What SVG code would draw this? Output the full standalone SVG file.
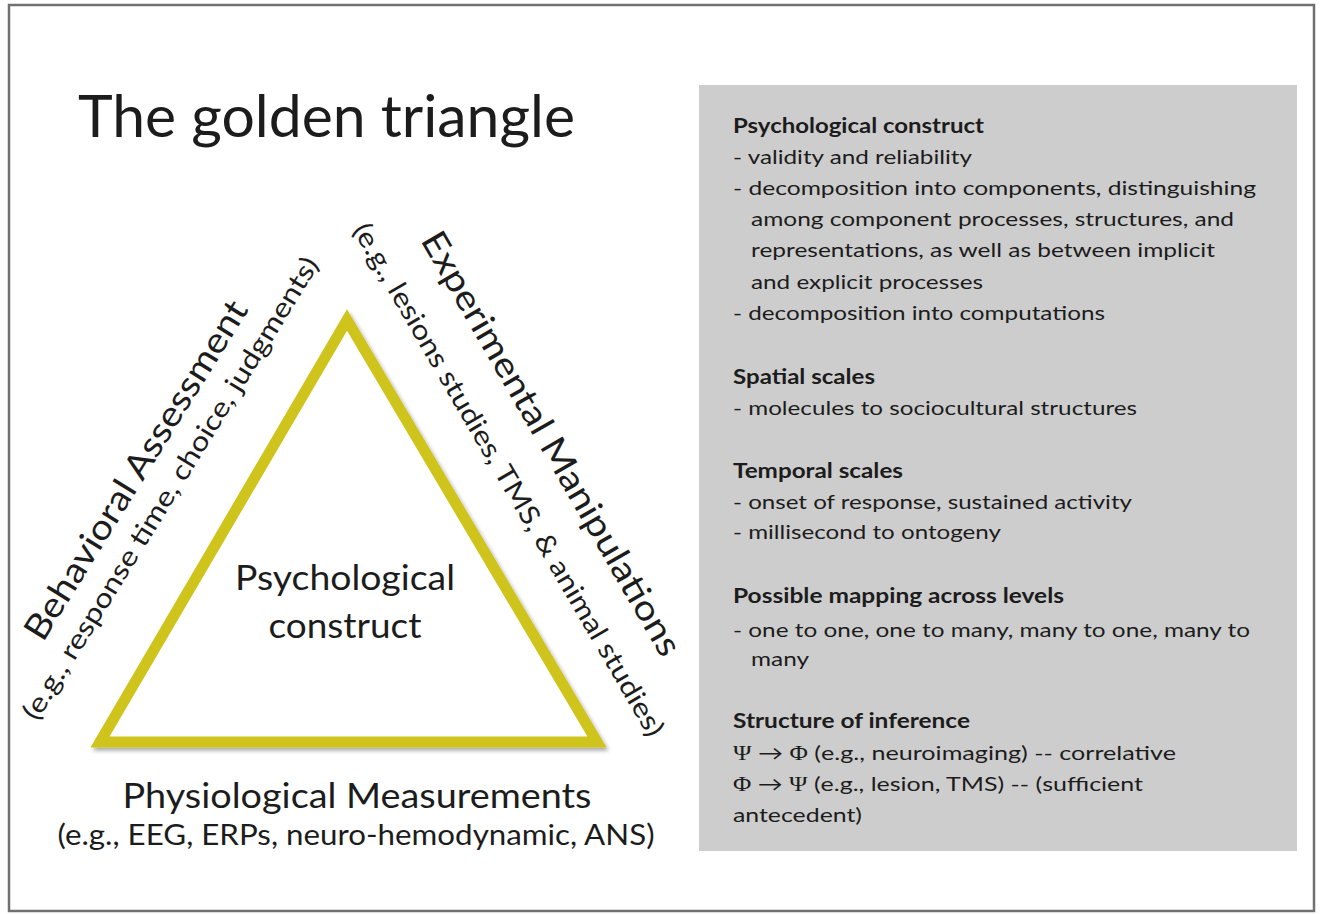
<svg xmlns="http://www.w3.org/2000/svg" width="1321" height="914" viewBox="0 0 1321 914">
<style>
.t{font-family:Lato,"Open Sans","Liberation Sans",sans-serif;fill:#1c1c1c}
.b{font-weight:bold}
.box{font-size:20px}
.sym{font-family:"Liberation Serif","DejaVu Serif",serif}
</style>
<defs>
<filter id="sh" x="-10%" y="-10%" width="120%" height="120%">
<feGaussianBlur in="SourceAlpha" stdDeviation="2"/>
<feOffset dx="2" dy="3"/>
<feComponentTransfer><feFuncA type="linear" slope="0.35"/></feComponentTransfer>
<feMerge><feMergeNode/><feMergeNode in="SourceGraphic"/></feMerge>
</filter>
</defs>
<rect x="0" y="0" width="1321" height="914" fill="#ffffff"/>
<rect id="frame" x="9" y="5" width="1305" height="906" fill="none" stroke="#707070" stroke-width="2.5"/>

<g id="title">
<text class="t" x="78" y="137" font-size="58" textLength="497" lengthAdjust="spacingAndGlyphs">The golden triangle</text>
</g>

<g id="triangle">
<path d="M347,320 L100,742 L597,742 Z" fill="#ffffff" stroke="#cfc41c" stroke-width="11" stroke-linejoin="miter" filter="url(#sh)"/>
<text class="t" x="345" y="590" font-size="35" text-anchor="middle" textLength="220" lengthAdjust="spacingAndGlyphs">Psychological</text>
<text class="t" x="345" y="638" font-size="35" text-anchor="middle" textLength="153" lengthAdjust="spacingAndGlyphs">construct</text>
</g>

<g id="behavioral">
<text class="t" transform="translate(43,643) rotate(-58.3)" font-size="35" textLength="392" lengthAdjust="spacingAndGlyphs">Behavioral Assessment</text>
<text class="t" transform="translate(37,722) rotate(-58.3)" font-size="27" textLength="538" lengthAdjust="spacingAndGlyphs">(e.g., response time, choice, judgments)</text>
</g>

<g id="experimental">
<text class="t" transform="translate(420,240) rotate(60)" font-size="35" textLength="484" lengthAdjust="spacingAndGlyphs">Experimental Manipulations</text>
<text class="t" transform="translate(352,230) rotate(59.7)" font-size="27" textLength="589" lengthAdjust="spacingAndGlyphs">(e.g., lesions studies, TMS, &amp; animal studies)</text>
</g>

<g id="physiological">
<text class="t" x="357" y="808" font-size="34" text-anchor="middle" textLength="469" lengthAdjust="spacingAndGlyphs">Physiological Measurements</text>
<text class="t" x="356" y="845" font-size="29" text-anchor="middle" textLength="597" lengthAdjust="spacingAndGlyphs">(e.g., EEG, ERPs, neuro-hemodynamic, ANS)</text>
</g>

<g id="infobox">
<rect x="699" y="85" width="598" height="766" fill="#cdcdcd"/>
<g class="t box">
<text class="b" x="733" y="133" textLength="251" lengthAdjust="spacingAndGlyphs">Psychological construct</text>
<text x="733" y="164" textLength="239" lengthAdjust="spacingAndGlyphs">- validity and reliability</text>
<text x="733" y="195" textLength="523" lengthAdjust="spacingAndGlyphs">-  decomposition into components, distinguishing</text>
<text x="751" y="226" textLength="483" lengthAdjust="spacingAndGlyphs">among component processes, structures, and</text>
<text x="751" y="257" textLength="464" lengthAdjust="spacingAndGlyphs">representations, as well as between implicit</text>
<text x="751" y="289" textLength="232" lengthAdjust="spacingAndGlyphs">and explicit processes</text>
<text x="733" y="320" textLength="372" lengthAdjust="spacingAndGlyphs">- decomposition into computations</text>
<text class="b" x="733" y="384" textLength="142" lengthAdjust="spacingAndGlyphs">Spatial scales</text>
<text x="733" y="415" textLength="404" lengthAdjust="spacingAndGlyphs">- molecules to sociocultural structures</text>
<text class="b" x="733" y="478" textLength="170" lengthAdjust="spacingAndGlyphs">Temporal scales</text>
<text x="733" y="509" textLength="399" lengthAdjust="spacingAndGlyphs">- onset of response, sustained activity</text>
<text x="733" y="539" textLength="268" lengthAdjust="spacingAndGlyphs">- millisecond to ontogeny</text>
<text class="b" x="733" y="603" textLength="331" lengthAdjust="spacingAndGlyphs">Possible mapping across levels</text>
<text x="733" y="637" textLength="517" lengthAdjust="spacingAndGlyphs">- one to one, one to many, many to one, many to</text>
<text x="751" y="666" textLength="58" lengthAdjust="spacingAndGlyphs">many</text>
<text class="b" x="733" y="728" textLength="237" lengthAdjust="spacingAndGlyphs">Structure of inference</text>
<text x="733" y="760" textLength="443" lengthAdjust="spacingAndGlyphs"><tspan class="sym">Ψ</tspan> → <tspan class="sym">Φ</tspan> (e.g., neuroimaging) -- correlative</text>
<text x="733" y="791" textLength="410" lengthAdjust="spacingAndGlyphs"><tspan class="sym">Φ</tspan> → <tspan class="sym">Ψ</tspan> (e.g., lesion, TMS) -- (sufficient</text>
<text x="733" y="822" textLength="129" lengthAdjust="spacingAndGlyphs">antecedent)</text>
</g>
</g>
</svg>
